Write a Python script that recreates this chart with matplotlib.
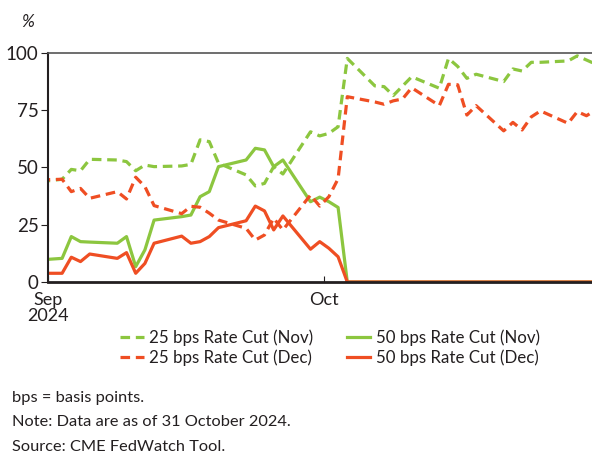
import matplotlib
matplotlib.use("Agg")
import matplotlib.pyplot as plt
import pandas as pd

plt.rcParams['font.family'] = ['Lato', 'DejaVu Sans']

# business days, Aug 30 to Oct 31 2024
dates = pd.to_datetime([
    '2024-08-30', '2024-09-03', '2024-09-04', '2024-09-05', '2024-09-06',
    '2024-09-09', '2024-09-10', '2024-09-11', '2024-09-12', '2024-09-13',
    '2024-09-16', '2024-09-17', '2024-09-18', '2024-09-19', '2024-09-20',
    '2024-09-23', '2024-09-24', '2024-09-25', '2024-09-26', '2024-09-27',
    '2024-09-30', '2024-10-01', '2024-10-02', '2024-10-03', '2024-10-04',
    '2024-10-07', '2024-10-08', '2024-10-09', '2024-10-10', '2024-10-11',
    '2024-10-14', '2024-10-15', '2024-10-16', '2024-10-17', '2024-10-18',
    '2024-10-21', '2024-10-22', '2024-10-23', '2024-10-24', '2024-10-25',
    '2024-10-28', '2024-10-29', '2024-10-30', '2024-10-31'])

cut25_nov = [43.0, 44.8, 49.1, 48.5, 53.5, 53.2, 52.5, 48.5, 51.0, 50.3,
             50.6, 51.3, 62.0, 61.2, 51.8, 46.7, 41.9, 43.0, 50.3, 47.1,
             65.5, 63.7, 64.8, 67.7, 97.5, 85.5, 85.2, 81.3, 85.4, 89.5,
             84.5, 97.5, 94.0, 88.8, 90.6, 87.4, 92.9, 92.0, 95.8, 95.8,
             96.4, 98.6, 96.8, 95.0]
cut50_nov = [9.2, 10.3, 19.8, 17.6, 17.4, 16.9, 19.8, 6.7, 14.0, 27.0,
             28.5, 29.2, 37.2, 39.4, 50.3, 53.2, 58.3, 57.6, 50.3, 53.2,
             35.0, 37.0, 35.0, 32.5, 0, 0, 0, 0, 0, 0,
             0, 0, 0, 0, 0, 0, 0, 0, 0, 0,
             0, 0, 0, 0]
cut25_dec = [44.3, 44.8, 39.4, 40.8, 36.5, 39.4, 36.2, 45.7, 41.6, 33.3,
             29.8, 33.0, 32.6, 30.0, 27.0, 23.4, 18.3, 20.5, 27.8, 22.7,
             37.9, 33.1, 37.2, 45.0, 80.8, 78.5, 77.5, 79.0, 79.8, 84.7,
             76.9, 86.2, 86.0, 72.8, 76.9, 65.9, 69.6, 66.3, 72.0, 74.6,
             69.2, 74.3, 72.5, 75.0]
cut50_dec = [3.8, 3.8, 10.8, 8.9, 12.2, 10.3, 12.8, 3.8, 8.1, 16.9,
             20.0, 16.9, 17.6, 19.8, 23.7, 26.7, 33.1, 31.0, 22.7, 28.8,
             14.3, 17.6, 14.7, 11.0, 0, 0, 0, 0, 0, 0,
             0, 0, 0, 0, 0, 0, 0, 0, 0, 0,
             0, 0, 0, 0]

green = '#8cc63f'
red = '#ef4e23'
dark = '#231f20'
dash = (0, (3.0, 1.8))

fig = plt.figure(figsize=(5.92, 4.58), dpi=100)
ax = fig.add_axes([0.0816, 0.3843, 0.9184, 0.5007])

l1, = ax.plot(dates, cut25_nov, color=green, lw=2.3, ls=dash, label='25 bps Rate Cut (Nov)')
l2, = ax.plot(dates, cut50_nov, color=green, lw=2.3, label='50 bps Rate Cut (Nov)')
l3, = ax.plot(dates, cut25_dec, color=red, lw=2.3, ls=dash, label='25 bps Rate Cut (Dec)')
l4, = ax.plot(dates, cut50_dec, color=red, lw=2.3, label='50 bps Rate Cut (Dec)')

ticks = [pd.Timestamp('2024-09-01 12:00'), pd.Timestamp('2024-10-01 12:00')]
ax.set_xlim(ticks[0], ticks[1] + pd.Timedelta(days=29.1))
ax.set_ylim(0, 100)
ax.set_xticks(ticks)
ax.set_xticklabels(['Sep\n2024', 'Oct'], fontsize=13, color=dark, linespacing=1.05)
ax.set_yticks([0, 25, 50, 75, 100])
ax.set_yticklabels(['0', '25', '50', '75', '100'], fontsize=13.5, color=dark)
ax.tick_params(axis='x', direction='in', length=4, width=0.8, color=dark, pad=7)
ax.tick_params(axis='y', direction='out', length=5, width=0.8, color=dark, pad=2)

ax.spines['right'].set_visible(False)
ax.spines['top'].set_color('#555555')
ax.spines['top'].set_linewidth(1.2)
ax.spines['left'].set_color(dark)
ax.spines['left'].set_linewidth(1.5)
ax.spines['bottom'].set_color(dark)
ax.spines['bottom'].set_linewidth(2)

fig.text(0.047, 0.952, '%', fontsize=12.5, style='italic', color=dark, ha='center', va='center')

fig.legend(handles=[l1, l3, l2, l4], ncol=2, loc='center', bbox_to_anchor=(0.557, 0.2405),
           frameon=False, fontsize=12.2, handlelength=1.4, handletextpad=0.3,
           columnspacing=2.0, labelspacing=0.2, labelcolor=dark)

fig.text(0.02, 0.131, 'bps = basis points.', fontsize=11.8, color=dark, va='center')
fig.text(0.02, 0.078, 'Note: Data are as of 31 October 2024.', fontsize=11.8, color=dark, va='center')
fig.text(0.02, 0.024, 'Source: CME FedWatch Tool.', fontsize=11.8, color=dark, va='center')

fig.savefig('out.png', dpi=100)
